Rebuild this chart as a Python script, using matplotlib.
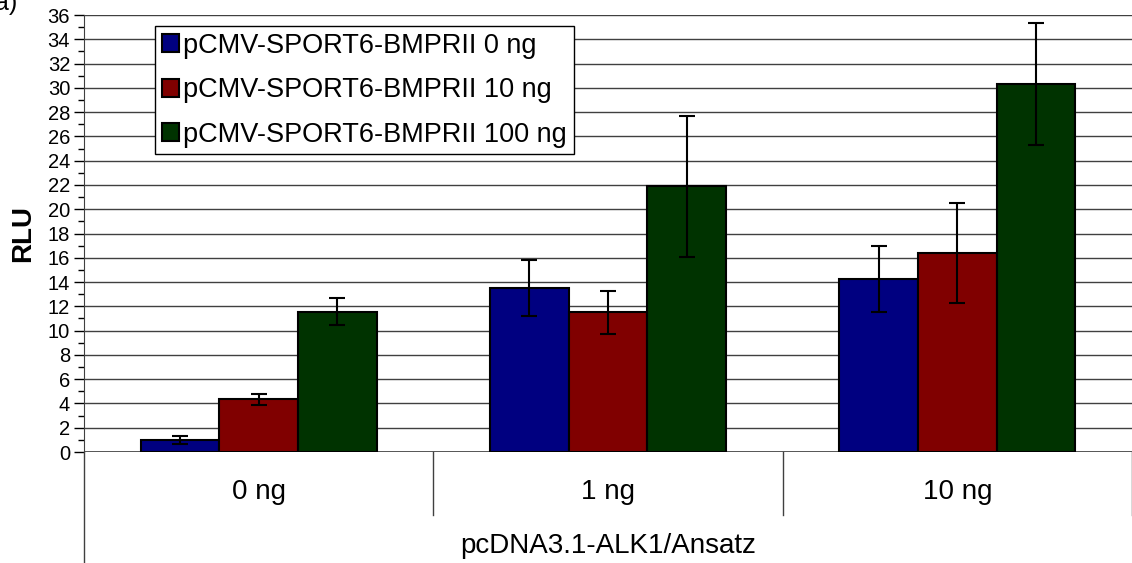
import numpy as np
import matplotlib.pyplot as plt
from matplotlib.ticker import MultipleLocator

plt.rcParams['font.family'] = ['Liberation Sans', 'DejaVu Sans']
plt.rcParams['ytick.labelsize'] = 14.5

groups = ["0 ng", "1 ng", "10 ng"]
series = ["pCMV-SPORT6-BMPRII 0 ng", "pCMV-SPORT6-BMPRII 10 ng", "pCMV-SPORT6-BMPRII 100 ng"]
means = [
    [1.0, 13.5, 14.25],
    [4.35, 11.5, 16.4],
    [11.55, 21.9, 30.3],
]
errors = [
    [0.3, 2.3, 2.7],
    [0.45, 1.8, 4.1],
    [1.1, 5.8, 5.05],
]
colors = ["#000080", "#800000", "#003300"]

fig = plt.figure(figsize=(11.32, 5.63), dpi=100)
ax = fig.add_axes([84 / 1132, 1 - 452 / 563, 1048 / 1132, 437 / 563])

x = np.arange(len(groups))
w = 0.225
for i, (m, e, c, lab) in enumerate(zip(means, errors, colors, series)):
    ax.bar(x + (i - 1) * w, m, w, color=c, edgecolor="black", linewidth=1.5,
           label=lab, zorder=2)
    ax.errorbar(x + (i - 1) * w, m, yerr=e, fmt="none", ecolor="black",
                elinewidth=1.5, capsize=6, capthick=1.5, zorder=3)

ax.set_xlim(-0.5, 2.5)
ax.set_ylim(0, 36)
ax.yaxis.set_major_locator(MultipleLocator(2))
ax.yaxis.set_minor_locator(MultipleLocator(1))
ax.tick_params(axis="y", which="major", length=7, width=1, direction="out", pad=3)
ax.tick_params(axis="y", which="minor", length=4, width=1, direction="out")
ax.set_xticks([])
ax.grid(axis="y", which="major", color="#404040", linewidth=1, zorder=0)
ax.set_axisbelow(True)
for s in ["top", "right", "bottom"]:
    ax.spines[s].set_visible(False)
ax.spines["left"].set_color("#404040")
ax.axhline(0, color="#404040", linewidth=1.2, zorder=1)

# category table under the plot
trans = ax.get_xaxis_transform()
for xs in [0.5, 1.5, 2.5]:
    ax.plot([xs, xs], [0, -0.144], transform=trans, color="#404040",
            linewidth=1, clip_on=False)
ax.plot([-0.5, -0.5], [0, -0.26], transform=trans, color="#404040",
        linewidth=1, clip_on=False)
for xi, g in zip(x, groups):
    ax.text(xi, -0.1075, g, transform=trans, ha="center", va="baseline", fontsize=20)
ax.text(1, -0.231, "pcDNA3.1-ALK1/Ansatz", transform=trans, ha="center",
        va="baseline", fontsize=20)

ax.set_ylabel("RLU", fontsize=20, fontweight="bold", labelpad=8)
fig.text(-0.004, 0.994, "a)", fontsize=18, ha="left", va="center")

leg = ax.legend(loc="upper left", bbox_to_anchor=(71 / 1048, 1 - 11 / 437),
                fontsize=19.5, frameon=True, fancybox=False, edgecolor="black",
                framealpha=1, handlelength=0.65, handleheight=0.65,
                handletextpad=0.15, borderpad=0.25, labelspacing=0.68,
                borderaxespad=0)
leg.get_frame().set_linewidth(1)

fig.savefig("out.png", dpi=100)
